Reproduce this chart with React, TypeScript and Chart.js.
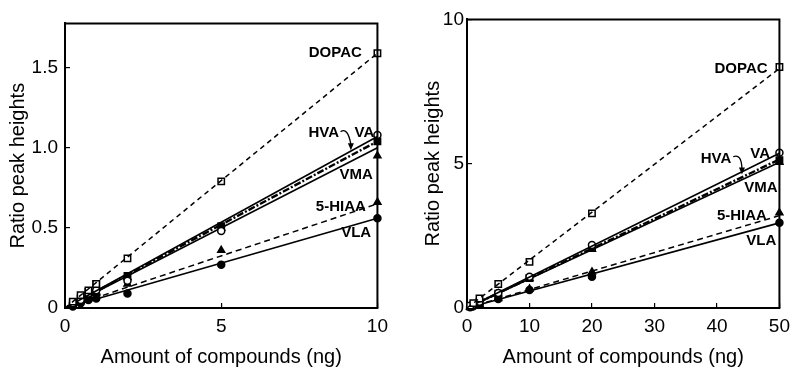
import React, { useEffect, useRef } from 'react';
import { Chart, registerables } from 'chart.js';
Chart.register(...registerables);

// ---------- data ----------
const compounds = ['DOPAC', 'VA', 'HVA', 'VMA', '5-HIAA', 'VLA'];

// Left panel (0-10 ng)
const leftAmounts = [0.25, 0.5, 0.75, 1, 2, 5, 10];
const leftDOPAC = [0.04, 0.08, 0.11, 0.15, 0.31, 0.79, 1.59];
const leftVA = [0.03, 0.05, 0.09, 0.11, 0.17, 0.48, 1.08];
const leftHVA = [0.03, 0.06, 0.1, 0.15, 0.2, 0.51, 1.04];
const leftVMA = [0.02, 0.05, 0.08, 0.1, 0.19, 0.5, 0.95];
const leftHIAA = [0.02, 0.04, 0.06, 0.09, 0.15, 0.36, 0.66];
const leftVLA = [0.01, 0.03, 0.05, 0.06, 0.09, 0.27, 0.56];
const leftFitEnd = [1.59, 1.07, 1.04, 1.0, 0.65, 0.56];
const leftXTicks = [0, 5, 10];
const leftYTicks = [0, 0.5, 1, 1.5];
const leftLabelX = [9.5, 9.9, 8.77, 9.85, 9.63, 9.8];
const leftLabelY = [1.59, 1.09, 1.09, 0.83, 0.63, 0.47];
const leftArrow = [8.82, 1.1, 9.05, 1.13, 9.15, 0.99]; // from, control, to

// Right panel (0-50 ng)
const rightAmounts = [0.5, 1, 2, 5, 10, 20, 50];
const rightDOPAC = [0.08, 0.17, 0.33, 0.83, 1.6, 3.28, 8.35];
const rightVA = [0.05, 0.11, 0.22, 0.52, 1.08, 2.18, 5.38];
const rightHVA = [0.05, 0.1, 0.21, 0.5, 1.04, 2.08, 5.12];
const rightVMA = [0.05, 0.1, 0.2, 0.49, 1.02, 2.04, 5.05];
const rightHIAA = [0.03, 0.07, 0.13, 0.33, 0.66, 1.25, 3.3];
const rightVLA = [0.03, 0.06, 0.12, 0.31, 0.62, 1.08, 2.95];
const rightFitEnd = [8.3, 5.36, 5.15, 5.05, 3.2, 2.95];
const rightXTicks = [0, 10, 20, 30, 40, 50];
const rightYTicks = [0, 5, 10];
const rightLabelX = [48.1, 48.5, 42.3, 49.7, 48.0, 49.5];
const rightLabelY = [8.29, 5.34, 5.17, 4.18, 3.18, 2.33];
const rightArrow = [42.6, 5.24, 43.9, 5.36, 44.0, 4.66];

const xTitle = 'Amount of compounds (ng)';
const yTitle = 'Ratio peak heights';

// ---------- styles ----------
const FONT = "'Liberation Sans', Arial, Helvetica, sans-serif";
const lineDash = [[5, 4], [], [7, 2, 2, 2], [], [6, 4], []];
const lineWidths = [1.5, 1.6, 2.4, 1.6, 1.5, 1.6];
const markerStyle = ['rect', 'circle', 'rect', 'triangle', 'triangle', 'circle'];
const markerFilled = [false, false, true, true, true, true];
const markerRadius = [4.5, 3.5, 4.5, 4, 4, 3.5];

type Panel = {
  amounts: number[];
  series: number[][];
  fitEnd: number[];
  xMax: number;
  yMax: number;
  xTicks: number[];
  yTicks: number[];
  labelX: number[];
  labelY: number[];
  arrow: number[];
  yFmt: (v: number) => string;
  yAxisWidth: number;
  yTitlePad: number;
  yTickPad: number;
  padRight: number;
  padTop: number;
};

function buildConfig(p: Panel): any {
  const datasets: any[] = [];
  compounds.forEach((name, i) => {
    datasets.push({
      label: name + ' fit',
      type: 'line',
      data: [{ x: 0, y: 0 }, { x: p.xMax, y: p.fitEnd[i] }],
      borderColor: '#000',
      borderWidth: lineWidths[i],
      borderDash: lineDash[i],
      pointRadius: 0,
      showLine: true,
      fill: false,
      clip: false,
    });
    datasets.push({
      label: name,
      data: p.amounts.map((x, j) => ({ x, y: p.series[i][j] })),
      showLine: false,
      pointStyle: markerStyle[i],
      pointRadius: markerRadius[i],
      pointBorderWidth: 1.5,
      pointBorderColor: '#000',
      pointBackgroundColor: markerFilled[i] ? '#000' : '#fff',
      clip: false,
    });
  });

  const annot = {
    id: 'annot',
    afterDraw(chart: any) {
      const { ctx, chartArea } = chart;
      const xs = chart.scales.x;
      const ys = chart.scales.y;
      ctx.save();
      // frame
      ctx.strokeStyle = '#000';
      ctx.lineWidth = 2;
      ctx.beginPath();
      ctx.moveTo(chartArea.left, chartArea.top);
      ctx.lineTo(chartArea.right, chartArea.top);
      ctx.lineTo(chartArea.right, chartArea.bottom);
      ctx.stroke();
      // labels
      ctx.fillStyle = '#000';
      ctx.font = 'bold 15px ' + FONT;
      ctx.textAlign = 'right';
      ctx.textBaseline = 'middle';
      compounds.forEach((name, i) => {
        ctx.fillText(name, xs.getPixelForValue(p.labelX[i]), ys.getPixelForValue(p.labelY[i]));
      });
      // HVA arrow
      const x0 = xs.getPixelForValue(p.arrow[0]);
      const y0 = ys.getPixelForValue(p.arrow[1]);
      const cx = xs.getPixelForValue(p.arrow[2]);
      const cy = ys.getPixelForValue(p.arrow[3]);
      const x1 = xs.getPixelForValue(p.arrow[4]);
      const y1 = ys.getPixelForValue(p.arrow[5]);
      ctx.lineWidth = 1.3;
      ctx.beginPath();
      ctx.moveTo(x0, y0);
      ctx.quadraticCurveTo(cx, cy, x1, y1 - 5);
      ctx.stroke();
      ctx.beginPath();
      ctx.moveTo(x1 - 3, y1 - 6);
      ctx.lineTo(x1 + 3, y1 - 6);
      ctx.lineTo(x1, y1 + 1);
      ctx.closePath();
      ctx.fill();
      ctx.restore();
    },
  };

  const tickFont = { family: FONT, size: 19 };
  const titleFont = { family: FONT, size: 20, lineHeight: 1 };

  return {
    type: 'scatter',
    data: { datasets },
    plugins: [annot],
    options: {
      responsive: false,
      animation: false,
      events: [],
      layout: { padding: { left: 0, right: p.padRight, top: p.padTop, bottom: 0 } },
      plugins: { legend: { display: false }, tooltip: { enabled: false } },
      scales: {
        x: {
          type: 'linear',
          min: 0,
          max: p.xMax,
          afterBuildTicks: (s: any) => { s.ticks = p.xTicks.map((v) => ({ value: v })); },
          afterFit: (s: any) => { s.height = 60; },
          border: { display: true, color: '#000', width: 2 },
          grid: { drawOnChartArea: false, drawTicks: true, tickLength: -5, color: '#000', lineWidth: 1.2 },
          ticks: { color: '#000', font: tickFont, padding: 12, maxRotation: 0, callback: (v: any) => String(v) },
          title: { display: true, text: xTitle, color: '#000', font: titleFont, padding: { top: 0, bottom: 1 } },
        },
        y: {
          type: 'linear',
          min: 0,
          max: p.yMax,
          afterBuildTicks: (s: any) => { s.ticks = p.yTicks.map((v) => ({ value: v })); },
          afterFit: (s: any) => { s.width = p.yAxisWidth; },
          border: { display: true, color: '#000', width: 2 },
          grid: { drawOnChartArea: false, drawTicks: true, tickLength: -5, color: '#000', lineWidth: 1.2 },
          ticks: { color: '#000', font: tickFont, padding: p.yTickPad, callback: (v: any) => p.yFmt(Number(v)) },
          title: { display: true, text: yTitle, color: '#000', font: titleFont, padding: { top: p.yTitlePad, bottom: 0 } },
        },
      },
    },
  };
}

const leftPanel: Panel = {
  amounts: leftAmounts,
  series: [leftDOPAC, leftVA, leftHVA, leftVMA, leftHIAA, leftVLA],
  fitEnd: leftFitEnd,
  xMax: 10,
  yMax: 1.776,
  xTicks: leftXTicks,
  yTicks: leftYTicks,
  labelX: leftLabelX,
  labelY: leftLabelY,
  arrow: leftArrow,
  yFmt: (v) => (v === 0 ? '0' : v.toFixed(1)),
  yAxisWidth: 65,
  yTitlePad: 8,
  yTickPad: 12,
  padRight: 10,
  padTop: 18,
};

const rightPanel: Panel = {
  amounts: rightAmounts,
  series: [rightDOPAC, rightVA, rightHVA, rightVMA, rightHIAA, rightVLA],
  fitEnd: rightFitEnd,
  xMax: 50,
  yMax: 10,
  xTicks: rightXTicks,
  yTicks: rightYTicks,
  labelX: rightLabelX,
  labelY: rightLabelY,
  arrow: rightArrow,
  yFmt: (v) => String(v),
  yAxisWidth: 67,
  yTitlePad: 23,
  yTickPad: 8,
  padRight: 12,
  padTop: 15,
};

function ChartPanel({ panel, width, height }: { panel: Panel; width: number; height: number }) {
  const ref = useRef<HTMLCanvasElement | null>(null);
  useEffect(() => {
    if (!ref.current) return;
    const chart = new Chart(ref.current, buildConfig(panel));
    return () => chart.destroy();
  }, [panel]);
  return <canvas ref={ref} width={width} height={height} style={{ display: 'block', width, height }} />;
}

export default function App() {
  return (
    <div style={{ position: 'fixed', left: 0, top: 0, width: 802, height: 368, background: '#fff' }}>
      <div style={{ position: 'absolute', left: 0, top: 0 }}>
        <ChartPanel panel={leftPanel} width={400} height={368} />
      </div>
      <div style={{ position: 'absolute', left: 400, top: 0 }}>
        <ChartPanel panel={rightPanel} width={402} height={368} />
      </div>
    </div>
  );
}
